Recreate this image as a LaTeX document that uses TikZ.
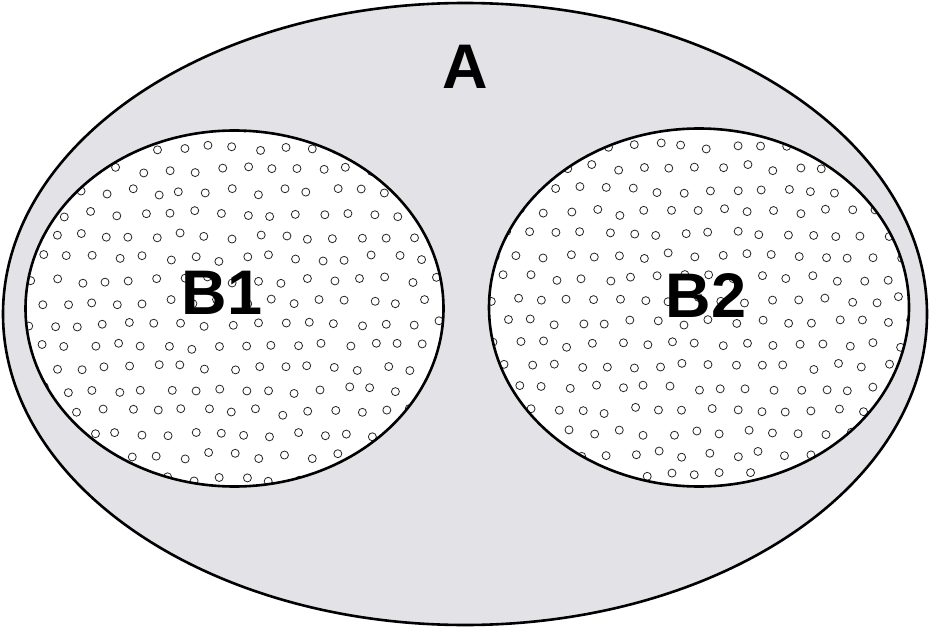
\documentclass[tikz,border=0pt]{standalone}
\usepackage{fontspec}
\setmainfont{Liberation Sans}
\begin{document}
\begin{tikzpicture}[x=1pt,y=-1pt,
  outline/.style={draw=black,line width=2.6pt},
  dotc/.style={draw=black!85,line width=0.8pt},
  lab/.style={font=\fontsize{63}{63}\selectfont\bfseries,inner sep=0pt}]
\definecolor{bgA}{RGB}{226,226,231}
\useasboundingbox (0,0) rectangle (931,628);
\fill[bgA] (465,314) ellipse[x radius=462,y radius=311];
\draw[outline] (465,314) ellipse[x radius=462,y radius=311];
\pgfmathsetseed{11}
% B1
\fill[white] (234.5,308.5) ellipse[x radius=209,y radius=178];
\begin{scope}
\clip (234.5,308.5) ellipse[x radius=209,y radius=178];
\foreach \r in {0,...,17}{
  \foreach \c in {0,...,17}{
    \pgfmathsetmacro\px{16+\c*25.5+mod(\r,2)*12.75+rand*3.5}
    \pgfmathsetmacro\py{126+\r*22+rand*3.5}
    \draw[dotc] (\px,\py) circle[radius=4];
  }
}
\end{scope}
\draw[outline] (234.5,308.5) ellipse[x radius=209,y radius=178];
% B2
\fill[white] (699,307.5) ellipse[x radius=210,y radius=179];
\begin{scope}
\clip (699,307.5) ellipse[x radius=210,y radius=179];
\foreach \r in {0,...,17}{
  \foreach \c in {0,...,17}{
    \pgfmathsetmacro\px{480+\c*25.5+mod(\r+1,2)*12.75+rand*3.5}
    \pgfmathsetmacro\py{124+\r*22+rand*3.5}
    \draw[dotc] (\px,\py) circle[radius=4];
  }
}
\end{scope}
\draw[outline] (699,307.5) ellipse[x radius=210,y radius=179];
\node[lab] (A) at (465,67) {A};
\node[lab] (B1) at (222,293) {B1};
\node[lab] (B2) at (706,296) {B2};
\end{tikzpicture}
\end{document}
